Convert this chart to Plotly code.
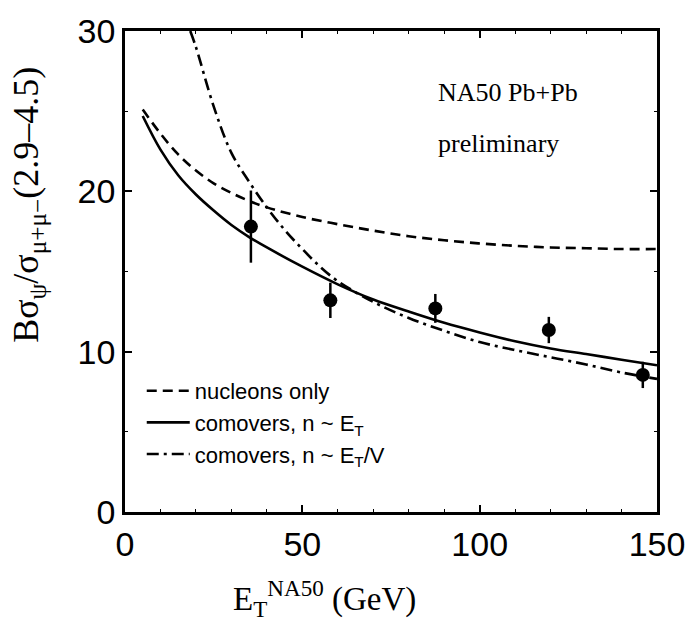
import plotly.graph_objects as go

# ---- data ----
pts_x = [35.5, 57.9, 87.5, 119.5, 146.0]
pts_y = [17.8, 13.2, 12.7, 11.35, 8.55]
pts_err = [2.25, 1.1, 0.9, 0.82, 0.82]

nuc_x = [5, 10, 15, 20, 25, 30, 35, 40, 50, 60, 70, 80, 90, 100, 110, 120, 130, 140, 150]
nuc_y = [25.1, 23.6, 22.3, 21.3, 20.5, 19.9, 19.4, 19.0, 18.4, 17.95, 17.55, 17.2, 16.95, 16.75, 16.6, 16.5, 16.45, 16.4, 16.4]

com_x = [5, 10, 15, 20, 25, 30, 35, 40, 50, 60, 70, 80, 90, 100, 110, 120, 130, 140, 150]
com_y = [24.7, 22.6, 21.0, 19.8, 18.8, 17.9, 17.15, 16.5, 15.3, 14.2, 13.25, 12.5, 11.8, 11.2, 10.65, 10.2, 9.85, 9.5, 9.15]

cov_x = [18.4, 20, 25, 30, 35, 40, 45, 50, 55, 60, 70, 80, 90, 100, 110, 120, 130, 140, 150]
cov_y = [30.0, 29.0, 25.3, 22.4, 20.6, 19.0, 17.6, 16.4, 15.3, 14.4, 13.1, 12.1, 11.3, 10.6, 10.1, 9.65, 9.2, 8.7, 8.3]

x_ticks = [0, 50, 100, 150]
y_ticks = [0, 10, 20, 30]

W, H = 697, 632
L, R, T, B = 125, 32, 21, 120

fig = go.Figure()
fig.add_trace(go.Scatter(x=nuc_x, y=nuc_y, mode="lines", name="nucleons only",
                         line=dict(color="black", width=2.6, dash="10px,6px"), line_shape="spline"))
fig.add_trace(go.Scatter(x=com_x, y=com_y, mode="lines", name="comovers, n ~ E<sub>T</sub>",
                         line=dict(color="black", width=2.6), line_shape="spline"))
fig.add_trace(go.Scatter(x=cov_x, y=cov_y, mode="lines", name="comovers, n ~ E<sub>T</sub>/V",
                         line=dict(color="black", width=2.6, dash="12px,5px,3px,5px"), line_shape="spline"))
fig.add_trace(go.Scatter(x=pts_x, y=pts_y, mode="markers", showlegend=False,
                         marker=dict(color="black", size=14),
                         error_y=dict(type="data", array=pts_err, color="black", thickness=2.5, width=0)))

def px2x(p):
    return (p - L) / (W - L - R)

def py2y(p):
    return 1 - (p - T) / (H - T - B)

axis_common = dict(showline=True, linecolor="black", linewidth=2.5, mirror="ticks",
                   ticks="inside", ticklen=7, tickwidth=1.5, tickcolor="black",
                   showgrid=False, zeroline=False,
                   tickfont=dict(family="Liberation Sans, Arial", size=34, color="black"))

fig.update_xaxes(range=[0, 150], tickvals=x_ticks, **axis_common,
                 minor=dict(dtick=10, ticks="inside", ticklen=3, tickwidth=1.2, tickcolor="black"))
fig.update_yaxes(range=[0, 30], tickvals=y_ticks, ticksuffix="\u00a0", **axis_common,
                 minor=dict(dtick=5, ticks="inside", ticklen=3, tickwidth=1.2, tickcolor="black"))

fig.add_annotation(text="NA50 Pb+Pb", x=px2x(441), y=py2y(84), xref="paper", yref="paper",
                   xanchor="left", yanchor="middle", showarrow=False,
                   font=dict(family="Liberation Serif, Times New Roman", size=26, color="black"))
fig.add_annotation(text="preliminary", x=px2x(441), y=py2y(136), xref="paper", yref="paper",
                   xanchor="left", yanchor="middle", showarrow=False,
                   font=dict(family="Liberation Serif, Times New Roman", size=26, color="black"))
fig.add_annotation(text="E<sub>T</sub><sup>NA50</sup> (GeV)", x=px2x(328), y=py2y(600),
                   xref="paper", yref="paper", xanchor="center", yanchor="middle", showarrow=False,
                   font=dict(family="Liberation Serif, Times New Roman", size=33, color="black"))
fig.add_annotation(text="Bσ<sub>ψ</sub>/σ<sub>μ+μ−</sub>(2.9–4.5)", x=px2x(27), y=py2y(198),
                   xref="paper", yref="paper", xanchor="center", yanchor="middle", showarrow=False,
                   textangle=-90,
                   font=dict(family="Liberation Serif, Times New Roman", size=36, color="black"))

fig.update_layout(
    width=W, height=H,
    margin=dict(l=L, r=R, t=T, b=B),
    paper_bgcolor="white", plot_bgcolor="white",
    showlegend=True,
    legend=dict(x=px2x(142), y=py2y(367), xanchor="left", yanchor="top",
                bgcolor="rgba(0,0,0,0)", borderwidth=0, itemwidth=43,
                font=dict(family="Liberation Sans, Arial", size=22, color="black")),
)

fig.write_html("out.html")
